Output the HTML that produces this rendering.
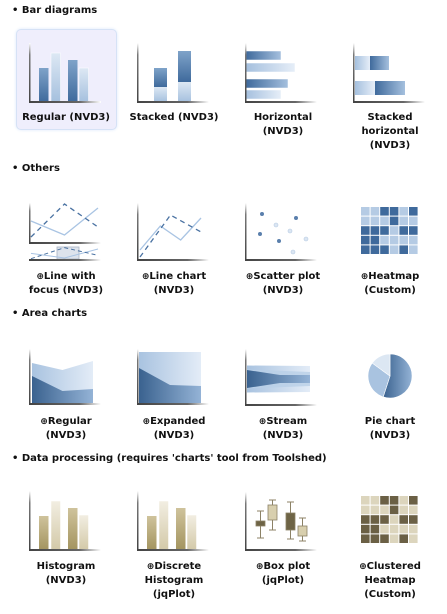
<!DOCTYPE html>
<html><head><meta charset="utf-8">
<style>
html,body{margin:0;padding:0;background:#fff;}
body{width:447px;height:614px;position:relative;overflow:hidden;font-family:"DejaVu Sans","Liberation Sans",sans-serif;font-weight:bold;font-size:10px;color:#111;}
.h{position:absolute;left:12px;font-size:10px;line-height:12px;white-space:nowrap;}
.lab{position:absolute;width:110px;text-align:center;line-height:14px;}
.sel{position:absolute;left:16px;top:29px;width:99px;height:99px;background:#efeefc;border:1px solid #d6e2f6;border-radius:5px;box-shadow:0 0 3px #dce8fa;}
svg{position:absolute;left:0;top:0;}
.mg{font-size:9px;}
</style></head><body>
<div class="sel"></div>
<div class="h" style="top:5px">• Bar diagrams</div>
<div class="h" style="top:163px">• Others</div>
<div class="h" style="top:308px">• Area charts</div>
<div class="h" style="top:453px">• Data processing (requires 'charts' tool from Toolshed)</div>

<div class="lab" style="left:11px;top:111px">Regular (NVD3)</div>
<div class="lab" style="left:119px;top:111px">Stacked (NVD3)</div>
<div class="lab" style="left:228px;top:111px">Horizontal<br>(NVD3)</div>
<div class="lab" style="left:335px;top:111px">Stacked<br>horizontal<br>(NVD3)</div>

<div class="lab" style="left:11px;top:270px"><span class="mg">⊕</span>Line with<br>focus (NVD3)</div>
<div class="lab" style="left:119px;top:270px"><span class="mg">⊕</span>Line chart<br>(NVD3)</div>
<div class="lab" style="left:228px;top:270px"><span class="mg">⊕</span>Scatter plot<br>(NVD3)</div>
<div class="lab" style="left:335px;top:270px"><span class="mg">⊕</span>Heatmap<br>(Custom)</div>

<div class="lab" style="left:11px;top:415px"><span class="mg">⊕</span>Regular<br>(NVD3)</div>
<div class="lab" style="left:119px;top:415px"><span class="mg">⊕</span>Expanded<br>(NVD3)</div>
<div class="lab" style="left:228px;top:415px"><span class="mg">⊕</span>Stream<br>(NVD3)</div>
<div class="lab" style="left:335px;top:415px">Pie chart<br>(NVD3)</div>

<div class="lab" style="left:11px;top:560px">Histogram<br>(NVD3)</div>
<div class="lab" style="left:119px;top:560px"><span class="mg">⊕</span>Discrete<br>Histogram<br>(jqPlot)</div>
<div class="lab" style="left:228px;top:560px"><span class="mg">⊕</span>Box plot<br>(jqPlot)</div>
<div class="lab" style="left:335px;top:560px"><span class="mg">⊕</span>Clustered<br>Heatmap<br>(Custom)</div>

<svg id="g" width="447" height="614">
<defs>
<linearGradient id="bd" x1="0" y1="1" x2="0" y2="0"><stop offset="0" stop-color="#3f6a9c"/><stop offset="1" stop-color="#7fa3c9"/></linearGradient>
<linearGradient id="bl" x1="0" y1="1" x2="0" y2="0"><stop offset="0" stop-color="#a5c0de"/><stop offset="1" stop-color="#dde8f4"/></linearGradient>
<linearGradient id="hd" x1="0" y1="0" x2="1" y2="0"><stop offset="0" stop-color="#3f6a9c"/><stop offset="1" stop-color="#a5c0de"/></linearGradient>
<linearGradient id="hl" x1="0" y1="0" x2="1" y2="0"><stop offset="0" stop-color="#a5c0de"/><stop offset="1" stop-color="#e6eef8"/></linearGradient>
<linearGradient id="td" x1="0" y1="1" x2="0" y2="0"><stop offset="0" stop-color="#a3945f"/><stop offset="1" stop-color="#cfc39c"/></linearGradient>
<linearGradient id="tl" x1="0" y1="1" x2="0" y2="0"><stop offset="0" stop-color="#d3c9a8"/><stop offset="1" stop-color="#f2eee2"/></linearGradient>
<linearGradient id="ad" x1="0" y1="0" x2="1" y2="0"><stop offset="0" stop-color="#3a628f"/><stop offset="1" stop-color="#94b3d6"/></linearGradient>
<linearGradient id="al" x1="0" y1="0" x2="1" y2="0"><stop offset="0" stop-color="#a9c3e0"/><stop offset="1" stop-color="#e3ecf7"/></linearGradient>
<linearGradient id="ax" x1="0" y1="0" x2="1" y2="0"><stop offset="0" stop-color="#444"/><stop offset="0.7" stop-color="#666"/><stop offset="1" stop-color="#fff"/></linearGradient>
<linearGradient id="ay" x1="0" y1="1" x2="0" y2="0"><stop offset="0" stop-color="#444"/><stop offset="0.8" stop-color="#777"/><stop offset="1" stop-color="#fff"/></linearGradient>
</defs>
</svg>
<script>
// ---- data arrays ----
var barValues = [34, 49, 42, 34];
var stackedLow = [15, 20];
var stackedHigh = [19, 31];
var horizValues = [35, 49, 42, 35];
var stackHorizLow = [15, 20];
var stackHorizHigh = [19, 30];
var focusDashed = [4, 37, 14];
var focusSolid = [20, 6, 33];
var lineSolid = [10, 34, 20, 42];
var lineDashed = [3, 45, 28];
var scatterDark = [[16, 46], [50, 42], [14, 26], [33, 19]];
var scatterLight = [[30, 35], [44, 29], [60, 21], [47, 8]];
var heatCells = [
  [0,0,1,1,0,1],
  [0,0,0,1,0,0],
  [1,1,1,0,1,1],
  [1,1,0,0,0,0],
  [1,1,1,0,1,0]
];
var areaLight = [41, 34, 43];
var areaDark = [28, 13, 15];
var expandedDark = [36, 19, 18];
var streamOuter = [27, 26];
var streamDarkLeft = 18, streamDarkRight = 8;
var pieValues = [55, 30, 15];
var histValues = [34, 49, 42, 35];
var boxData = [[12, 24, 29, 39], [20, 30, 45, 50], [11, 20, 37, 48], [9, 14, 24, 32]];

var svg = document.getElementById('g');
var NS = 'http://www.w3.org/2000/svg';
function mk(tag, a){var e=document.createElementNS(NS,tag);for(var k in a)e.setAttribute(k,a[k]);svg.appendChild(e);return e;}

function axes(ox, by, top, name){
  var v=mk('rect',{x:ox-1,y:top,width:1.5,height:by-top,fill:'url(#ay)'});
  
  
  var h=mk('rect',{x:ox-1,y:by-1,width:72,height:2,fill:'url(#ax)'});
  
  
}
function bars(ox, by, vals, dark, light, name){
  var xs=[9,21,38,49];
  vals.forEach(function(v,i){
    var r=mk('rect',{x:ox+xs[i],y:by-v,width:9.5,height:v,fill:(i%2==0?dark:light),stroke:(i%2==0?'none':'#fff'),'stroke-width':0.5});
    
    
  });
  axes(ox,by,by-59,name);
}
// Row 1
bars(30,102,barValues,'url(#bd)','url(#bl)','regular-bar');
stackedLow.forEach(function(v,i){
  var x=154+i*24;
  var a=mk('rect',{x:x,y:102-v,width:13,height:v,fill:'url(#bl)'});
  
  
  var b=mk('rect',{x:x,y:102-v-stackedHigh[i],width:13,height:stackedHigh[i],fill:'url(#bd)'});
  
  
});
axes(138,102,43,'stacked-bar');
horizValues.forEach(function(v,i){
  var ys=[51,63,79,90];
  var r=mk('rect',{x:246,y:ys[i],width:v,height:9,fill:(i%2==0?'url(#hd)':'url(#hl)'),stroke:'#fff','stroke-width':0.5});
  
  
});
axes(246,102,43,'horizontal-bar');
stackHorizLow.forEach(function(v,i){
  var y=56+i*25;
  var a=mk('rect',{x:355,y:y,width:v,height:14,fill:'url(#hl)'});
  
  
  var b=mk('rect',{x:355+v,y:y,width:stackHorizHigh[i],height:14,fill:'url(#hd)'});
  
  
});
axes(354,102,43,'stacked-horizontal');

// Row 2 line with focus
function pts(ox,by,vals,w){return vals.map(function(v,i){return (ox+i*w/(vals.length-1))+','+(by-v);}).join(' ');}
var f1=mk('polyline',{points:pts(31,241,focusSolid,67),fill:'none',stroke:'#a9c4e3','stroke-width':1.3});


var f2=mk('polyline',{points:pts(31,241,focusDashed,67),fill:'none',stroke:'#4a72a2','stroke-width':1.3,'stroke-dasharray':'5,4'});


axes(30,243,203,'line-focus');
var fb=mk('rect',{x:57,y:247,width:22,height:12,fill:'#dde3ec',stroke:'#aab4c4','stroke-width':0.8});


var f3=mk('polyline',{points:pts(31,260,focusSolid.map(function(v){return v/3;}),67),fill:'none',stroke:'#a9c4e3','stroke-width':1});


var f4=mk('polyline',{points:pts(31,260,focusDashed.map(function(v){return v/3;}),67),fill:'none',stroke:'#4a72a2','stroke-width':1,'stroke-dasharray':'4,3'});


var cx=mk('rect',{x:29,y:259,width:72,height:2,fill:'url(#ax)'});


// line chart
var l1=mk('polyline',{points:pts(140,260,lineSolid,61),fill:'none',stroke:'#a9c4e3','stroke-width':1.3});


var l2=mk('polyline',{points:pts(140,260,lineDashed,61),fill:'none',stroke:'#4a72a2','stroke-width':1.3,'stroke-dasharray':'5,4'});


axes(138,260,203,'line-chart');
// scatter
scatterDark.forEach(function(p){
  var c=mk('circle',{cx:246+p[0],cy:260-p[1],r:2,fill:'#5a7fac'});
  
  
});
scatterLight.forEach(function(p){
  var c=mk('circle',{cx:246+p[0],cy:260-p[1],r:2,fill:'#dbe6f3',stroke:'#b7cbe2','stroke-width':0.6});
  
  
});
axes(246,260,203,'scatter');
function heat(x0,y0,dark,light,name){
  heatCells.forEach(function(row,r){row.forEach(function(v,c){
    var e=mk('rect',{x:x0+c*9.6,y:y0+r*9.6,width:8.6,height:8.6,fill:v?dark:light});
    
    
  });});
}
heat(361,207,'#3f6a9c','#b5cbe4','heatmap');

// Row 3 areas
function areaPath(ox,by,vals,w){var s='M'+ox+','+by;vals.forEach(function(v,i){s+=' L'+(ox+i*w/(vals.length-1))+','+(by-v);});return s+' L'+(ox+w)+','+by+' Z';}
var a1=mk('path',{d:areaPath(32,404,areaLight,61),fill:'url(#al)'});


var a2=mk('path',{d:areaPath(32,404,areaDark,61),fill:'url(#ad)'});


axes(30,404,349,'area-regular');
var e1=mk('rect',{x:139,y:352,width:62,height:52,fill:'url(#al)'});


var e2=mk('path',{d:areaPath(139,404,expandedDark,62),fill:'url(#ad)'});


axes(138,404,349,'area-expanded');
// stream
var mid=379;
var s1=mk('path',{d:'M247,'+(mid-streamOuter[0]/2)+' L310,'+(mid-streamOuter[1]/2)+' L310,'+(mid+streamOuter[1]/2)+' L247,'+(mid+streamOuter[0]/2)+' Z',fill:'url(#al)'});


var s0=mk('path',{d:'M247,'+(mid-streamOuter[0]/2+4)+' L310,'+(mid-streamOuter[1]/2+6)+' L310,'+(mid+streamOuter[1]/2-6)+' L247,'+(mid+streamOuter[0]/2-4)+' Z',fill:'#b9cfe7',opacity:0.8});


var s2=mk('path',{d:'M247,'+(mid-streamDarkLeft/2)+' L280,'+(mid-streamDarkRight/2)+' L310,'+(mid-streamDarkRight/2)+' L310,'+(mid+streamDarkRight/2)+' L280,'+(mid+streamDarkRight/2)+' L247,'+(mid+streamDarkLeft/2)+' Z',fill:'url(#ad)'});


axes(246,405,349,'area-stream');
// pie
var pc=[390,376], pr=22, tot=pieValues.reduce(function(a,b){return a+b;},0), ang=-Math.PI/2;
var pcols=['url(#ad)','#a9c3e0','#dce7f3'];
pieValues.forEach(function(v,i){
  var a0=ang, a1=ang+v/tot*2*Math.PI; ang=a1;
  var d='M'+pc[0]+','+pc[1]+' L'+(pc[0]+pr*Math.cos(a0))+','+(pc[1]+pr*Math.sin(a0))+' A'+pr+','+pr+' 0 '+((a1-a0)>Math.PI?1:0)+' 1 '+(pc[0]+pr*Math.cos(a1))+','+(pc[1]+pr*Math.sin(a1))+' Z';
  var p=mk('path',{d:d,fill:pcols[i],stroke:'#fff','stroke-width':0.6});
  
  
});

// Row 4
bars(30,550,histValues,'url(#td)','url(#tl)','histogram');
bars(138,550,histValues,'url(#td)','url(#tl)','discrete-histogram');
boxData.forEach(function(b,i){
  var xs=[256,268,286,298], x=xs[i], by=550, dark=(i%2==0);
  var w=mk('line',{x1:x+4.5,x2:x+4.5,y1:by-b[3],y2:by-b[0],stroke:'#8c8266','stroke-width':1});
  
  
  [b[0],b[3]].forEach(function(v){
    var c=mk('line',{x1:x+1,x2:x+8,y1:by-v,y2:by-v,stroke:'#8c8266','stroke-width':1});
    
    
  });
  var r=mk('rect',{x:x,y:by-b[2],width:9,height:b[2]-b[1],fill:dark?'#6e6446':'#d8cfae',stroke:'#8c8266','stroke-width':0.8});
  
  
});
axes(246,550,492,'box-plot');
heat(361,496,'#6b6045','#dcd5bd','clustered-heatmap');
</script>
</body></html>
